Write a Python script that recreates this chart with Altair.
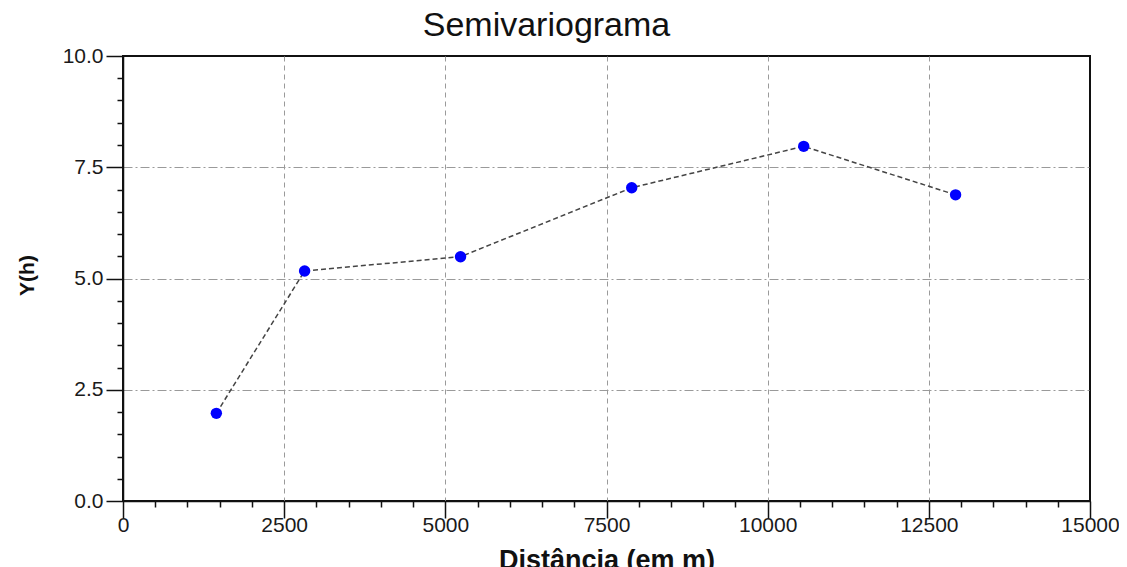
import altair as alt
import pandas as pd

distancia = [1448, 2817, 5236, 7891, 10559, 12915]
gamma = [1.97, 5.17, 5.49, 7.04, 7.97, 6.88]

x_ticks = list(range(0, 15001, 500))
y_ticks = [i * 0.5 for i in range(0, 21)]

df = pd.DataFrame({"d": distancia, "g": gamma})

FONT = "Liberation Sans"

x_axis = alt.Axis(
    values=x_ticks,
    labelExpr="datum.value % 2500 === 0 ? datum.label : ''",
    labelOverlap=False,
    labelFlush=False,
    format="d",
    tickSize={"condition": {"test": "datum.value % 2500 === 0", "value": 17}, "value": 6},
    gridOpacity={
        "condition": {
            "test": "datum.value % 2500 === 0 && datum.value > 0 && datum.value < 15000",
            "value": 1,
        },
        "value": 0,
    },
    grid=True,
    gridColor="#9a9a9a",
    gridDash=[5, 4],
    gridWidth=1,
    labelPadding=-4,
    labelFont=FONT,
    labelFontSize=21,
    labelColor="#1a1a1a",
    tickColor="#111111",
    tickWidth=1.5,
    domainColor="#111111",
    domainWidth=1.5,
    title="Distância (em m)",
    titleFont=FONT,
    titleFontSize=27,
    titleFontWeight="bold",
    titleColor="#111111",
    titlePadding=12,
)

y_axis = alt.Axis(
    values=y_ticks,
    labelExpr="datum.value % 2.5 === 0 ? format(datum.value, '.1f') : ''",
    labelOverlap=False,
    tickSize={"condition": {"test": "datum.value % 2.5 === 0", "value": 17}, "value": 6},
    gridOpacity={
        "condition": {
            "test": "datum.value % 2.5 === 0 && datum.value > 0 && datum.value < 10",
            "value": 1,
        },
        "value": 0,
    },
    grid=True,
    gridColor="#9a9a9a",
    gridDash=[9, 3, 2, 3],
    gridWidth=1,
    labelPadding=3,
    labelFont=FONT,
    labelFontSize=21,
    labelColor="#1a1a1a",
    tickColor="#111111",
    tickWidth=1.5,
    domainColor="#111111",
    domainWidth=1.5,
    title="Y(h)",
    titleFont=FONT,
    titleFontSize=21,
    titleFontWeight="bold",
    titleColor="#111111",
    titlePadding=25,
    titleY=219,
)

x_enc = alt.X("d:Q", scale=alt.Scale(domain=[0, 15000], nice=False, zero=False), axis=x_axis)
y_enc = alt.Y("g:Q", scale=alt.Scale(domain=[0, 10], nice=False), axis=y_axis)

base = alt.Chart(df).encode(x=x_enc, y=y_enc)

line = base.mark_line(color="#444444", strokeDash=[5, 3], strokeWidth=1.5)
points = base.mark_point(filled=True, color="#0000ff", size=130, opacity=1)

chart = (
    alt.layer(line, points)
    .properties(
        width=967,
        height=445,
        title=alt.TitleParams(
            "Semivariograma",
            font=FONT,
            fontSize=34,
            fontWeight="normal",
            color="#111111",
            anchor="middle",
            dx=-60,
            offset=2,
        ),
        autosize=alt.AutoSizeParams(type="none"),
        padding={"left": 115, "top": 48, "right": 29, "bottom": 66},
    )
    .configure_view(stroke="#111111", strokeWidth=2)
)

chart.save("out.html", embed_options={"renderer": "svg", "actions": False})
